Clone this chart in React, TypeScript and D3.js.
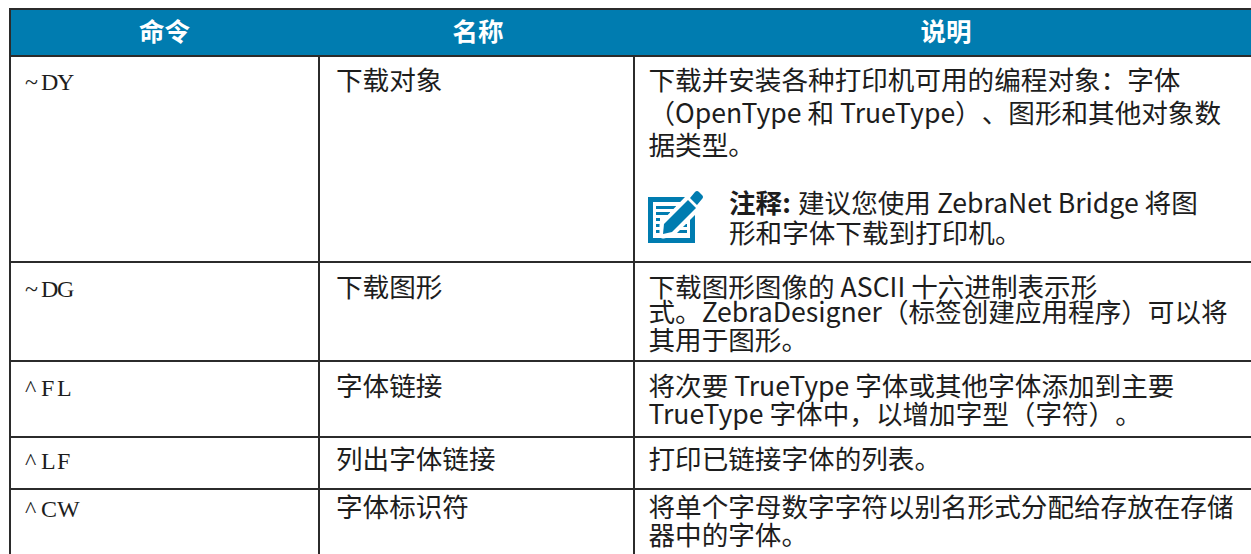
import * as d3 from "d3";
import React from "react";

const width = 1251;
const height = 554;

const headers = ["命令", "名称", "说明"];
const commands = ["~DY", "~DG", "^FL", "^LF", "^CW"];
const names = ["下载对象", "下载图形", "字体链接", "列出字体链接", "字体标识符"];
const descriptions = [
  ["下载并安装各种打印机可用的编程对象：字体", "（OpenType 和 TrueType）、图形和其他对象数", "据类型。"],
  ["下载图形图像的 ASCII 十六进制表示形", "式。ZebraDesigner（标签创建应用程序）可以将", "其用于图形。"],
  ["将次要 TrueType 字体或其他字体添加到主要", "TrueType 字体中，以增加字型（字符）。"],
  ["打印已链接字体的列表。"],
  ["将单个字母数字字符以别名形式分配给存放在存储", "器中的字体。"],
];
const noteLabel = "注释:";
const noteLines = ["建议您使用 ZebraNet Bridge 将图", "形和字体下载到打印机。"];

// layout, measured off the page
const colEdges = [10, 319, 634, 1258];
const headerTop = 9;
const headerBottom = 56;
const rowBottoms = [262, 361, 437, 489];
const lineBaselines = [
  [90, 123, 155],
  [297, 322, 350],
  [396, 424],
  [469],
  [517, 545],
];
const textFont = "'Noto Sans CJK SC', 'Noto Sans', sans-serif";
const blue = "#007cb0";
const rule = "#2b2b2b";
const ink = "#1d1d1d";
const textSize = 26.6;

export default function App() {
  const ref = React.useRef<SVGSVGElement | null>(null);

  React.useEffect(() => {
    if (!ref.current) return;
    const svg = d3.select(ref.current);
    svg.selectAll("*").remove();
    svg.style("text-spacing-trim", "space-all");

    svg
      .append("rect")
      .attr("x", colEdges[0])
      .attr("y", headerTop)
      .attr("width", width - colEdges[0])
      .attr("height", headerBottom - headerTop)
      .attr("fill", blue);

    svg
      .append("g")
      .selectAll("text")
      .data(headers)
      .join("text")
      .text((d) => d)
      .attr("x", (_, i) => (colEdges[i] + colEdges[i + 1]) / 2 + (i === 1 ? 1.5 : 0))
      .attr("y", 41)
      .attr("text-anchor", "middle")
      .attr("fill", "#fff")
      .attr("font-family", textFont)
      .attr("font-weight", 700)
      .attr("font-size", 25.5);

    // rules
    const rules = svg.append("g").attr("stroke", rule).attr("stroke-width", 2);
    rules
      .selectAll("line.row")
      .data([headerTop, headerBottom, ...rowBottoms])
      .join("line")
      .attr("class", "row")
      .attr("x1", colEdges[0] - 1)
      .attr("x2", width)
      .attr("y1", (d) => d)
      .attr("y2", (d) => d);
    rules
      .selectAll("line.col")
      .data(colEdges.slice(0, 3))
      .join("line")
      .attr("class", "col")
      .attr("x1", (d) => d)
      .attr("x2", (d) => d)
      .attr("y1", (_, i) => (i === 0 ? headerTop : headerBottom))
      .attr("y2", height);

    // command column: serif letters on a fixed 16px pitch, like a typewriter face
    svg
      .append("g")
      .selectAll("text")
      .data(commands)
      .join("text")
      .text((d) => d)
      .attr("x", (d) => d3.range(d.length).map((k) => 25 + k * 16).join(" "))
      .attr("y", (_, i) => lineBaselines[i][0])
      .attr("fill", ink)
      .attr("font-family", "'Liberation Serif', serif")
      .attr("font-size", 24);

    svg
      .append("g")
      .selectAll("text")
      .data(names)
      .join("text")
      .text((d) => d)
      .attr("x", 336)
      .attr("y", (_, i) => lineBaselines[i][0])
      .attr("fill", ink)
      .attr("font-family", textFont)
      .attr("font-size", textSize);

    const descLines = descriptions.flatMap((lines, i) =>
      lines.map((text, j) => ({ text, y: lineBaselines[i][j] }))
    );
    svg
      .append("g")
      .selectAll("text")
      .data(descLines)
      .join("text")
      .text((d) => d.text)
      .attr("x", 648.5)
      .attr("y", (d) => d.y)
      .attr("fill", ink)
      .attr("font-family", textFont)
      .attr("font-size", textSize);

    // note icon
    const icon = svg.append("g").attr("transform", "translate(648,197)");
    icon
      .append("path")
      .attr("fill-rule", "evenodd")
      .attr("fill", blue)
      .attr("d", "M0,0H47V46H0ZM5,5V41H42V5Z");
    icon
      .selectAll("rect")
      .data([
        [8, 9, 20, 3],
        [8, 15, 14, 3],
        [8, 21, 4, 3],
        [8, 27, 4, 3],
        [8, 33, 4, 3],
        [17, 33, 22, 3],
        [28, 27, 11, 3],
      ])
      .join("rect")
      .attr("x", (d) => d[0])
      .attr("y", (d) => d[1])
      .attr("width", (d) => d[2])
      .attr("height", (d) => d[3])
      .attr("fill", blue);
    icon
      .append("path")
      .attr("fill", "#fff")
      .attr("stroke", "#fff")
      .attr("stroke-width", 7)
      .attr("stroke-linejoin", "round")
      .attr("d", "M15,28L40,2L49,11L24,36L15,38Z");
    icon
      .append("path")
      .attr("fill", blue)
      .attr("d", "M16,27L40,3L48,11L24,35L15,37Z");
    icon
      .append("path")
      .attr("fill", blue)
      .attr("d", "M42,1L47,-5Q49,-7 51,-5L54,-2Q56,0 54,2L49,8Z");

    svg
      .append("text")
      .text(noteLabel)
      .attr("x", 729)
      .attr("y", 213)
      .attr("fill", ink)
      .attr("font-family", textFont)
      .attr("font-weight", 700)
      .attr("font-size", textSize);
    svg
      .append("text")
      .text(noteLines[0])
      .attr("x", 798)
      .attr("y", 213)
      .attr("fill", ink)
      .attr("font-family", textFont)
      .attr("font-size", textSize);
    svg
      .append("text")
      .text(noteLines[1])
      .attr("x", 729)
      .attr("y", 243)
      .attr("fill", ink)
      .attr("font-family", textFont)
      .attr("font-size", textSize);
  }, []);

  return (
    <svg
      ref={ref}
      width={width}
      height={height}
      style={{ position: "fixed", left: 0, top: 0, background: "#fff" }}
    />
  );
}
